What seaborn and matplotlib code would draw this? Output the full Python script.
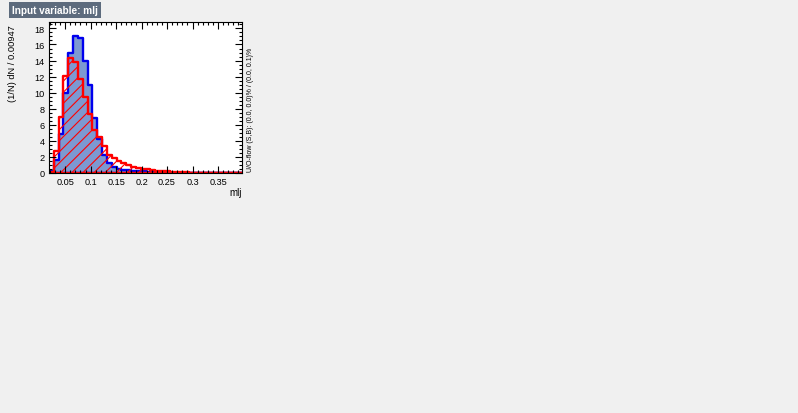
import numpy as np
import pandas as pd
import matplotlib
matplotlib.use("Agg")
import matplotlib.pyplot as plt
import seaborn as sns
from matplotlib.ticker import MultipleLocator

# binning of the mlj histogram (40 bins, width 0.00947)
bin_width = 0.00947
x_start = 0.0183
n_bins = 40

# normalised bin contents
signal = [0.3, 1.6, 4.9, 10.0, 14.9, 17.1, 16.75, 14.0, 10.9, 6.9,
          4.2, 2.2, 1.25, 0.8, 0.5, 0.38, 0.33, 0.3, 0.25, 0.2,
          0.17, 0.13, 0.1, 0.08, 0.06, 0.04, 0.03, 0.02, 0.02, 0.01,
          0.01, 0.01, 0.005, 0.005, 0.005, 0, 0, 0, 0, 0]
background = [0.1, 2.8, 7.0, 12.1, 14.3, 13.8, 11.7, 9.5, 7.3, 5.4,
              4.5, 3.4, 2.3, 1.85, 1.5, 1.25, 1.0, 0.8, 0.65, 0.55,
              0.45, 0.38, 0.3, 0.25, 0.2, 0.15, 0.12, 0.1, 0.08, 0.06,
              0.05, 0.04, 0.03, 0.03, 0.02, 0.02, 0.015, 0.01, 0.01, 0.01]

x_end = x_start + bin_width * n_bins
centers = x_start + bin_width * (np.arange(n_bins) + 0.5)
df = pd.DataFrame({'mlj': centers, 'sig': signal, 'bkg': background})

plt.rcParams['font.family'] = ['Liberation Sans', 'DejaVu Sans']
plt.rcParams['hatch.linewidth'] = 0.8

fig = plt.figure(figsize=(7.98, 4.14), dpi=100, facecolor='#f0f0f0')
ax = fig.add_axes([49 / 798, 1 - 174 / 414, 193 / 798, 151 / 414])
ax.set_facecolor('white')

# signal: filled blue
sns.histplot(data=df, x='mlj', weights='sig', bins=n_bins, binrange=(x_start, x_end),
             element='step', fill=True, color='#0000ee', facecolor='#7d99d1',
             edgecolor='#0000ee', linewidth=1.7, alpha=1, ax=ax)
# background: red hatched
sns.histplot(data=df, x='mlj', weights='bkg', bins=n_bins, binrange=(x_start, x_end),
             element='step', fill=True, color='#ff0000', facecolor='none',
             edgecolor='#ff0000', linewidth=1.7, hatch='///', alpha=1, ax=ax)

ax.set_xlim(x_start, x_end)
ax.set_ylim(0, 18.8)
ax.set_xlabel('')
ax.set_ylabel('')

ax.xaxis.set_minor_locator(MultipleLocator(0.01))
ax.yaxis.set_major_locator(MultipleLocator(2))
ax.yaxis.set_minor_locator(MultipleLocator(0.5))
ax.set_xticks([0.05, 0.1, 0.15, 0.2, 0.25, 0.3, 0.35])
ax.set_xticklabels(['0.05', '0.1', '0.15', '0.2', '0.25', '0.3', '0.35'])
ax.tick_params(which='both', direction='in', top=True, right=True,
               labelsize=6.6, width=0.8, color='black')
ax.tick_params(which='major', length=5, pad=3)
ax.tick_params(which='minor', length=2.5)
for s in ax.spines.values():
    s.set_linewidth(0.8)
    s.set_color('black')

fig.text(242 / 798, 1 - 193 / 414, 'mlj', ha='right', va='center', fontsize=7)
fig.text(13 / 798, 1 - 25 / 414, '(1/N) dN / 0.00947', rotation=90,
         ha='center', va='top', fontsize=6.7)
fig.text(250 / 798, 1 - 172 / 414, 'U/O-flow (S,B): (0.0, 0.0)% / (0.0, 0.1)%',
         rotation=90, ha='center', va='bottom', fontsize=5)
fig.text(12 / 798, 1 - 11 / 414, 'Input variable: mlj', ha='left', va='center',
         fontsize=7.2, fontweight='bold', color='white',
         bbox=dict(facecolor='#5d6b7d', edgecolor='none', pad=2.4))

fig.savefig('out.png', dpi=100, facecolor=fig.get_facecolor())
